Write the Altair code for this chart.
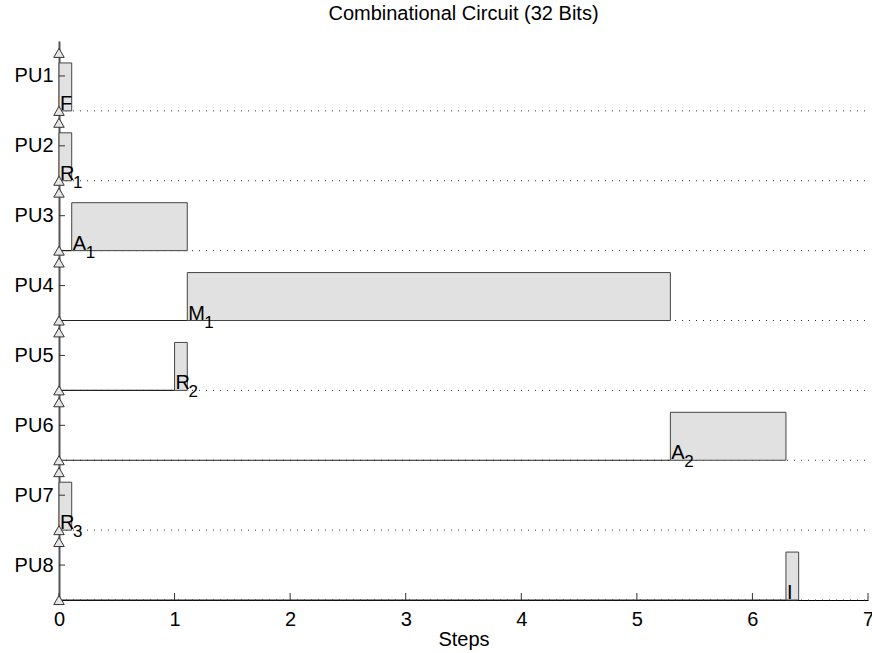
import altair as alt
import pandas as pd

units = ["PU1", "PU2", "PU3", "PU4", "PU5", "PU6", "PU7", "PU8"]
tasks = ["F", "R", "A", "M", "R", "A", "R", "I"]
subs = ["", "1", "1", "1", "2", "2", "3", ""]
starts = [0.0, 0.0, 0.11, 1.11, 1.0, 5.29, 0.0, 6.29]
ends = [0.11, 0.11, 1.11, 5.29, 1.11, 6.29, 0.11, 6.40]
x_ticks = [0, 1, 2, 3, 4, 5, 6, 7]
title_text = "Combinational Circuit (32 Bits)"

FONT = "Liberation Sans"
FS = 20
n = len(units)
W, H = 809, 559
PX_PER_UNIT = W / 7.0

df = pd.DataFrame({
    "unit": units, "task": tasks, "sub": subs,
    "start": starts, "end": ends,
    "row": [n - 1 - i for i in range(n)],
})
df["top"] = df["row"] + 0.686
df["center"] = df["row"] + 0.5
df["tri_top"] = df["row"] + 0.83
df["xmax"] = 7.0
df["xzero"] = 0.0

label_array = "[" + ",".join("'%s'" % u for u in units) + "]"

xscale = alt.Scale(domain=[0, 7], nice=False, zero=False)
yscale = alt.Scale(domain=[0, 8], nice=False, zero=False)

base = alt.Chart(df)

xaxis = alt.Axis(values=x_ticks, format="d", grid=False, ticks=False,
                 domainColor="black", domainWidth=1, labelFontSize=FS,
                 labelFont=FONT, labelColor="black", labelPadding=9,
                 title="Steps", titleFontSize=FS, titleFont=FONT,
                 titleFontWeight="normal", titleColor="black", titlePadding=0,
                 labelFlush=False)
yaxis = alt.Axis(values=[r + 0.5 for r in range(n)],
                 labelExpr=label_array + "[" + str(n - 1) + " - floor(datum.value)]",
                 grid=False, ticks=False, domainColor="#555", domainWidth=2,
                 labelFontSize=FS, labelFont=FONT, labelColor="black",
                 labelPadding=6, title=None)

dotted = base.mark_rule(color="#333", strokeWidth=1, strokeDash=[1, 6]).encode(
    x=alt.X("xzero:Q", scale=xscale, axis=xaxis),
    x2="xmax:Q",
    y=alt.Y("row:Q", scale=yscale, axis=yaxis),
)

waiting = base.transform_filter("datum.start > 0").mark_rule(
    color="#222", strokeWidth=1.2).encode(
    x="xzero:Q", x2="start:Q", y="row:Q",
)

bars = base.mark_rect(fill="#e1e1e1", stroke="#444", strokeWidth=1).encode(
    x="start:Q", x2="end:Q", y="row:Q", y2="top:Q",
)

main_text = base.mark_text(align="left", baseline="alphabetic", dx=1, dy=-1,
                           fontSize=FS, font=FONT, color="black").encode(
    x="start:Q", y="row:Q", text="task:N",
)

sub_text = base.transform_filter("datum.sub != ''").transform_calculate(
    sub_x="datum.start + (datum.task == 'M' ? 17 : datum.task == 'I' ? 6 : datum.task == 'F' ? 12 : 14) / " + str(PX_PER_UNIT)
).mark_text(align="left", baseline="alphabetic", dy=7, fontSize=17,
            font=FONT, color="black").encode(
    x="sub_x:Q", y="row:Q", text="sub:N",
)

tri_style = dict(shape="triangle-up", size=110, filled=True, fill="#e6e6e6",
                 stroke="#333", strokeWidth=1, opacity=1)
tri_low = base.mark_point(**tri_style).encode(x="xzero:Q", y="row:Q")
tri_high = base.mark_point(**tri_style).encode(x="xzero:Q", y="tri_top:Q")

ytick = base.mark_rule(color="#333", strokeWidth=1).encode(
    x=alt.value(0), x2=alt.value(6), y="center:Q",
)

xtick_df = pd.DataFrame({"t": x_ticks})
xtick = alt.Chart(xtick_df).mark_rule(color="#333", strokeWidth=1).encode(
    x="t:Q", y=alt.value(H), y2=alt.value(H - 7),
)

chart = alt.layer(dotted, waiting, bars, main_text, sub_text, ytick, xtick,
                  tri_low, tri_high).properties(
    width=W, height=H,
    title=alt.TitleParams(title_text, fontSize=FS, fontWeight="normal",
                          font=FONT, color="black", anchor="middle", offset=17),
    padding={"left": 59, "top": 41, "right": 4, "bottom": 53},
    autosize=alt.AutoSizeParams(type="none"),
).configure(background="white").configure_view(stroke=None)

chart.save("out.html", embed_options={"renderer": "svg", "actions": False})
